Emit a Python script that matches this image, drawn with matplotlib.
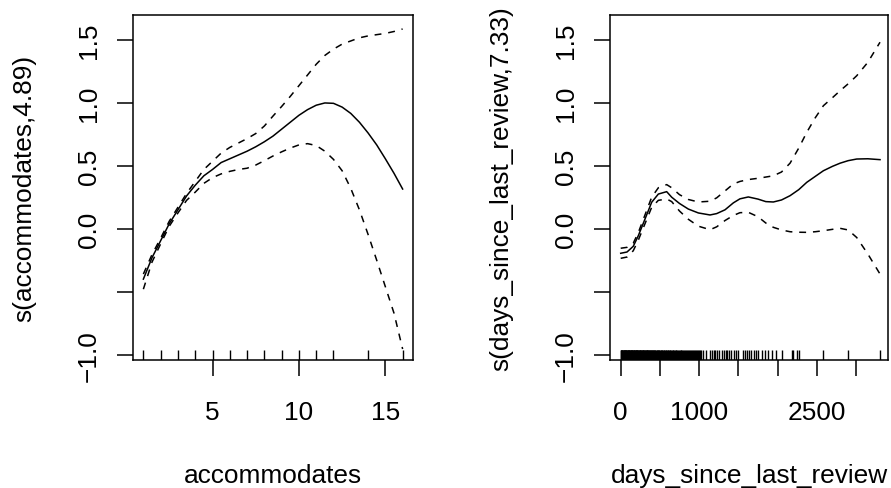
import matplotlib
matplotlib.use("Agg")
import matplotlib.pyplot as plt

plt.rcParams["font.family"] = "Liberation Sans"

# ---- left panel: s(accommodates, 4.89) ----
acc_x = [1, 1.5, 2, 2.5, 3, 3.5, 4, 4.5, 5, 5.5, 6, 6.5, 7, 7.5, 8, 8.5,
         9, 9.5, 10, 10.5, 11, 11.5, 12, 12.5, 13, 13.5, 14, 14.5, 15, 15.5, 16]
acc_fit = [-0.40, -0.23, -0.095, 0.04, 0.15, 0.26, 0.345, 0.42, 0.47, 0.525, 0.555,
           0.585, 0.615, 0.65, 0.69, 0.735, 0.79, 0.845, 0.90, 0.945, 0.98, 0.998,
           0.995, 0.965, 0.915, 0.845, 0.76, 0.665, 0.555, 0.44, 0.315]
acc_upper = [-0.36, -0.205, -0.075, 0.06, 0.17, 0.28, 0.375, 0.47, 0.535, 0.60, 0.645,
             0.68, 0.715, 0.755, 0.815, 0.894, 0.97, 1.05, 1.135, 1.22, 1.305, 1.375,
             1.425, 1.465, 1.49, 1.515, 1.53, 1.54, 1.55, 1.565, 1.585]
acc_lower = [-0.48, -0.265, -0.12, 0.02, 0.125, 0.225, 0.29, 0.36, 0.405, 0.435, 0.455,
             0.47, 0.48, 0.505, 0.54, 0.577, 0.61, 0.64, 0.665, 0.675, 0.66, 0.615,
             0.55, 0.46, 0.32, 0.15, -0.045, -0.25, -0.46, -0.67, -0.955]
acc_rug = [1, 2, 3, 4, 5, 6, 7, 8, 9, 10, 11, 12, 14, 16]

# ---- right panel: s(days_since_last_review, 7.33) ----
days_x = [0, 80, 160, 225, 310, 395, 480, 586, 650, 750, 862, 990, 1139, 1224, 1330,
          1436, 1520, 1627, 1750, 1850, 1946, 2050, 2159, 2270, 2372, 2480, 2584,
          2700, 2797, 2900, 3009, 3150, 3306]
days_fit = [-0.195, -0.185, -0.14, -0.055, 0.077, 0.21, 0.275, 0.294, 0.25, 0.20, 0.156,
            0.125, 0.109, 0.12, 0.15, 0.205, 0.237, 0.252, 0.235, 0.215, 0.212, 0.228,
            0.262, 0.31, 0.368, 0.415, 0.46, 0.495, 0.52, 0.54, 0.553, 0.555, 0.548]
days_upper = [-0.155, -0.148, -0.115, -0.03, 0.11, 0.25, 0.325, 0.35, 0.325, 0.27, 0.232,
              0.212, 0.218, 0.245, 0.30, 0.355, 0.375, 0.39, 0.40, 0.41, 0.42, 0.45,
              0.52, 0.64, 0.765, 0.88, 0.976, 1.04, 1.095, 1.15, 1.214, 1.32, 1.48]
days_lower = [-0.235, -0.225, -0.175, -0.09, 0.04, 0.17, 0.225, 0.236, 0.215, 0.14, 0.075,
              0.02, -0.008, 0.015, 0.065, 0.105, 0.127, 0.13, 0.095, 0.045, 0.011, -0.01,
              -0.024, -0.028, -0.029, -0.024, -0.016, -0.005, 0.003, -0.01, -0.07, -0.2, -0.36]
days_rug = [0, 4, 9, 13, 18, 22, 27, 31, 36, 41, 45, 50, 55, 59, 64, 69, 73, 78, 83,
            87, 92, 97, 101, 106, 111, 116, 120, 125, 130, 135, 140, 145, 149, 154, 159,
            164, 169, 174, 179, 184, 189, 194, 199, 204, 209, 214, 219, 225, 230, 235,
            240, 246, 251, 256, 262, 267, 273, 278, 284, 289, 295, 300, 306, 312, 318,
            323, 329, 335, 341, 347, 353, 359, 365, 371, 377, 384, 390, 396, 403, 409,
            416, 422, 429, 436, 443, 450, 457, 464, 471, 478, 486, 493, 501, 508, 516,
            524, 532, 540, 548, 556, 564, 573, 581, 590, 598, 607, 616, 625, 634, 643,
            653, 662, 672, 681, 691, 701, 711, 721, 732, 742, 753, 764, 775, 786, 797,
            809, 820, 832, 844, 856, 868, 881, 893, 906, 919, 932, 946, 959, 973, 987,
            1001, 1012,
            1030, 1055, 1090, 1135, 1160, 1185, 1205, 1225, 1250, 1290, 1315, 1340,
            1360, 1385, 1410, 1440, 1470, 1500, 1565, 1590, 1615, 1640, 1665, 1695,
            1720, 1755, 1798, 1840, 1882, 1925, 1980, 2053, 2180, 2201, 2244, 2277,
            2584, 2902, 3306]

y_ticks = [-1.0, -0.5, 0.0, 0.5, 1.0, 1.5]
y_ticklabels = ["\u22121.0", "", "0.0", "0.5", "1.0", "1.5"]

fs = 18.9
lw = 1.1

fig = plt.figure(figsize=(8.91, 4.89), dpi=100)
ax1 = fig.add_axes([0.14927, 0.26176, 0.31425, 0.70552])
ax2 = fig.add_axes([0.68496, 0.26176, 0.31223, 0.70552])


def gam_panel(ax, x, fit, upper, lower, rug, xlabel, ylabel, xticks, xticklabels, xlim):
    ax.plot(x, fit, color="black", lw=lw)
    ax.plot(x, upper, color="black", lw=lw, linestyle=(0, (4.5, 4.5)))
    ax.plot(x, lower, color="black", lw=lw, linestyle=(0, (4.5, 4.5)))
    # rug along the bottom of the plot region
    ax.vlines(rug, 0, 0.028, transform=ax.get_xaxis_transform(), color="black", lw=1.0)
    ax.set_xlim(xlim)
    ax.set_ylim(-1.042, 1.696)
    ax.set_xticks(xticks)
    ax.set_xticklabels(xticklabels)
    ax.set_yticks(y_ticks)
    ax.set_yticklabels(y_ticklabels, rotation=90, va="center")
    ax.tick_params(axis="both", direction="out", length=11.5, width=lw, labelsize=fs)
    ax.tick_params(axis="x", pad=17.0)
    ax.tick_params(axis="y", pad=11.7)
    for sp in ax.spines.values():
        sp.set_linewidth(lw)
    ax.set_xlabel(xlabel, fontsize=fs)
    ax.set_ylabel(ylabel, fontsize=fs)
    ax.xaxis.set_label_coords(0.5, -0.2983)


gam_panel(ax1, acc_x, acc_fit, acc_upper, acc_lower, acc_rug,
          "accommodates", "s(accommodates,4.89)",
          [5, 10, 15], ["5", "10", "15"], (0.4, 16.6))
ax1.yaxis.set_label_coords(-0.3446, 0.5)

gam_panel(ax2, days_x, days_fit, days_upper, days_lower, days_rug,
          "days_since_last_review", "s(days_since_last_review,7.33)",
          [0, 500, 1000, 1500, 2000, 2500, 3000],
          ["0", "", "1000", "", "", "2500", ""], (-132.6, 3414))
ax2.yaxis.set_label_coords(-0.3469, 0.5)

fig.savefig("out.png", dpi=100)
